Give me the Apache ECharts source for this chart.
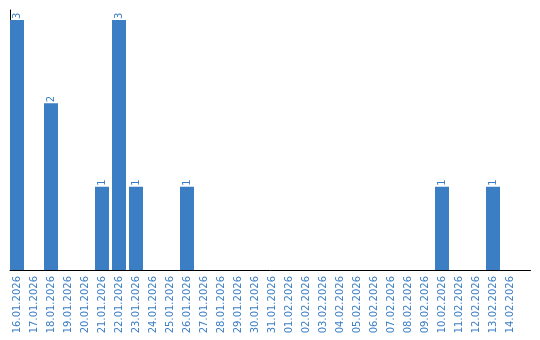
<!DOCTYPE html>
<html><head><meta charset="utf-8">
<script src="https://cdn.jsdelivr.net/npm/echarts@6/dist/echarts.min.js"></script>
<style>html,body{margin:0;padding:0;background:#fff}#c{width:540px;height:340px}</style>
</head><body><div id="c"></div>
<script>
var categories = ['16.01.2026','17.01.2026','18.01.2026','19.01.2026','20.01.2026','21.01.2026','22.01.2026','23.01.2026','24.01.2026','25.01.2026','26.01.2026','27.01.2026','28.01.2026','29.01.2026','30.01.2026','31.01.2026','01.02.2026','02.02.2026','03.02.2026','04.02.2026','05.02.2026','06.02.2026','07.02.2026','08.02.2026','09.02.2026','10.02.2026','11.02.2026','12.02.2026','13.02.2026','14.02.2026'];
var values = [3,0,2,0,0,1,3,1,0,0,1,0,0,0,0,0,0,0,0,0,0,0,0,0,0,1,0,0,1,0];
var blue = '#3b7ec3';
var chart = echarts.init(document.getElementById('c'));
chart.setOption({
  animation: false,
  grid: [
    {left: 8.5, top: 10, width: 510, height: 260},
    {left: 10, top: 10, width: 520.5, height: 260}
  ],
  xAxis: [
    {type: 'category', data: categories, gridIndex: 0,
     axisLine: {show: false}, axisTick: {show: false},
     axisLabel: {rotate: 90, color: blue, fontSize: 10, fontFamily: 'DejaVu Sans', margin: 6, interval: 0}},
    {type: 'value', gridIndex: 1, min: 0, max: 1,
     axisLine: {show: true, lineStyle: {color: '#000', width: 1}},
     axisTick: {show: false}, axisLabel: {show: false}, splitLine: {show: false}}
  ],
  yAxis: [
    {type: 'value', gridIndex: 0, min: 0, max: 3.12,
     axisLine: {show: false}, axisTick: {show: false}, axisLabel: {show: false}, splitLine: {show: false}},
    {type: 'value', gridIndex: 1, min: 0, max: 1,
     axisLine: {show: true, lineStyle: {color: '#000', width: 1}},
     axisTick: {show: false}, axisLabel: {show: false}, splitLine: {show: false}}
  ],
  series: [{
    type: 'bar', xAxisIndex: 0, yAxisIndex: 0,
    data: values.map(function(v){ return v === 0 ? null : v; }),
    barWidth: 14,
    itemStyle: {color: blue},
    label: {show: true, position: 'top', rotate: 90, align: 'left', verticalAlign: 'middle',
            distance: 1, color: blue, fontSize: 10, fontFamily: 'DejaVu Sans'}
  }]
});
</script></body></html>
